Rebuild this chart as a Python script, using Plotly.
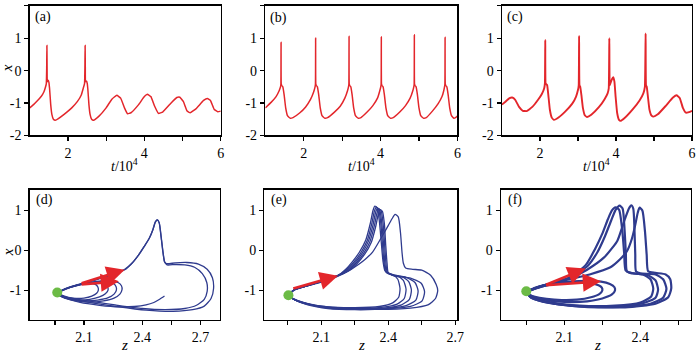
import plotly.graph_objects as go

FONT = "Liberation Serif, Times New Roman, Times, serif"
RED = "#e3262b"
BLUE = "#2f3b8e"
GREEN = "#6cbb46"

# ---------------- time series (top row) ----------------
a_t = [1.00, 1.10, 1.20, 1.30, 1.37, 1.41, 1.435, 1.445, 1.45, 1.455, 1.46, 1.48, 1.50, 1.52, 1.55, 1.58, 1.62, 1.67,
       1.75, 1.90, 2.10, 2.25, 2.35, 2.40, 2.435, 2.445, 2.45, 2.455, 2.46, 2.48, 2.50, 2.52, 2.55, 2.58, 2.62, 2.67,
       2.80, 3.00, 3.15, 3.28, 3.38, 3.48, 3.56, 3.65, 3.85, 4.00, 4.08, 4.17, 4.27, 4.37, 4.48, 4.70, 4.85, 4.93,
       5.02, 5.12, 5.20, 5.35, 5.55, 5.65, 5.73, 5.83, 5.92, 6.00]
a_x = [-1.15, -1.05, -0.93, -0.80, -0.66, -0.52, -0.40, 0.10, 0.78, 0.10, -0.34, -0.30, -0.34, -0.55, -1.05, -1.35,
       -1.50, -1.53, -1.48, -1.35, -1.15, -0.95, -0.75, -0.55, -0.40, 0.10, 0.78, 0.10, -0.34, -0.32, -0.36, -0.55,
       -1.05, -1.35, -1.50, -1.53, -1.42, -1.15, -0.88, -0.76, -0.85, -1.15, -1.33, -1.30, -1.05, -0.80, -0.73, -0.80,
       -1.10, -1.32, -1.28, -1.00, -0.83, -0.82, -0.95, -1.25, -1.30, -1.18, -0.92, -0.86, -0.92, -1.20, -1.27, -1.25]

b_t = [1.00, 1.15, 1.28, 1.36, 1.395, 1.405, 1.41, 1.415, 1.43, 1.455, 1.49, 1.53, 1.58, 1.65, 1.72, 1.90, 2.05,
       2.18, 2.26, 2.295, 2.305, 2.31, 2.315, 2.33, 2.355, 2.39, 2.43, 2.48, 2.55, 2.62, 2.80, 2.95, 3.07, 3.14,
       3.165, 3.175, 3.18, 3.185, 3.20, 3.225, 3.26, 3.30, 3.35, 3.42, 3.49, 3.65, 3.80, 3.92, 3.98, 4.005, 4.015,
       4.02, 4.025, 4.04, 4.065, 4.10, 4.14, 4.19, 4.26, 4.33, 4.50, 4.65, 4.77, 4.84, 4.865, 4.875, 4.88, 4.885,
       4.90, 4.925, 4.96, 5.00, 5.05, 5.12, 5.19, 5.35, 5.50, 5.60, 5.645, 5.665, 5.675, 5.68, 5.685, 5.70, 5.725,
       5.76, 5.80, 5.85, 5.91, 5.96, 6.00]
b_x = [-1.15, -0.98, -0.80, -0.62, -0.50, -0.42, 0.88, -0.42, -0.46, -0.50, -0.75, -1.15, -1.40, -1.47, -1.45, -1.30,
       -1.12, -0.88, -0.65, -0.50, -0.42, 1.01, -0.42, -0.46, -0.50, -0.75, -1.15, -1.40, -1.47, -1.45, -1.28, -1.10,
       -0.85, -0.62, -0.50, -0.42, 1.06, -0.42, -0.46, -0.50, -0.75, -1.15, -1.40, -1.47, -1.45, -1.28, -1.08, -0.85,
       -0.62, -0.50, -0.42, 1.05, -0.42, -0.46, -0.50, -0.75, -1.15, -1.40, -1.47, -1.45, -1.28, -1.08, -0.85, -0.62,
       -0.50, -0.42, 1.11, -0.42, -0.46, -0.50, -0.75, -1.15, -1.40, -1.47, -1.45, -1.25, -1.02, -0.80, -0.62, -0.50,
       -0.42, 1.03, -0.42, -0.46, -0.50, -0.75, -1.15, -1.40, -1.47, -1.44, -1.40]

c_t = [1.00, 1.10, 1.20, 1.27, 1.35, 1.45, 1.55, 1.65, 1.80, 1.95, 2.05, 2.11, 2.13, 2.14, 2.15, 2.17, 2.19, 2.22,
       2.26, 2.31, 2.37, 2.45, 2.65, 2.85, 2.95, 3.00, 3.02, 3.03, 3.04, 3.06, 3.09, 3.13, 3.18, 3.24, 3.35, 3.55,
       3.70, 3.78, 3.81, 3.825, 3.835, 3.85, 3.90, 3.93, 3.96, 3.99, 4.03, 4.08, 4.12, 4.22, 4.45, 4.62, 4.72, 4.76,
       4.78, 4.79, 4.81, 4.84, 4.88, 4.93, 4.99, 5.10, 5.30, 5.50, 5.60, 5.68, 5.76, 5.84, 5.92, 6.00]
c_x = [-1.05, -0.95, -0.85, -0.83, -0.90, -1.12, -1.24, -1.25, -1.12, -0.90, -0.72, -0.55, -0.40, 0.95, -0.40, -0.42,
       -0.45, -0.75, -1.20, -1.45, -1.52, -1.48, -1.28, -1.02, -0.80, -0.60, -0.45, 1.07, -0.45, -0.50, -0.75, -1.15,
       -1.38, -1.43, -1.36, -1.13, -0.88, -0.70, -0.55, 1.00, -0.45, -0.40, -0.25, -0.20, -0.35, -0.80, -1.30, -1.52,
       -1.55, -1.47, -1.18, -0.92, -0.70, -0.50, 1.15, -0.45, -0.50, -0.80, -1.20, -1.38, -1.42, -1.35, -1.10, -0.83,
       -0.76, -0.85, -1.15, -1.30, -1.28, -1.24]

# ---------------- phase portraits (bottom row): z, x ----------------
d_big1_z = [1.962, 2.00, 2.05, 2.10, 2.17, 2.24, 2.31, 2.345, 2.38, 2.41, 2.437, 2.455, 2.467, 2.477, 2.487, 2.497, 2.507,
            2.515, 2.525, 2.57, 2.63, 2.69, 2.735, 2.762, 2.768, 2.755, 2.72, 2.66, 2.56, 2.42, 2.27, 2.12, 2.02, 1.962]
d_big1_x = [-1.05, -0.97, -0.89, -0.82, -0.72, -0.61, -0.48, -0.33, -0.12, 0.10, 0.31, 0.52, 0.71, 0.77, 0.70, 0.35, -0.05,
            -0.28, -0.33, -0.31, -0.30, -0.34, -0.47, -0.68, -0.95, -1.20, -1.39, -1.48, -1.52, -1.49, -1.40, -1.29, -1.19, -1.08]
d_big2_z = [1.962, 2.00, 2.05, 2.10, 2.17, 2.24, 2.31, 2.347, 2.382, 2.412, 2.438, 2.456, 2.468, 2.478, 2.488, 2.498, 2.508,
            2.516, 2.528, 2.57, 2.62, 2.67, 2.71, 2.733, 2.735, 2.72, 2.68, 2.62, 2.52, 2.40, 2.26, 2.12, 2.02, 1.962]
d_big2_x = [-1.05, -0.96, -0.88, -0.81, -0.71, -0.60, -0.47, -0.32, -0.11, 0.11, 0.32, 0.53, 0.71, 0.76, 0.69, 0.34, -0.06,
            -0.29, -0.36, -0.35, -0.36, -0.42, -0.58, -0.80, -1.02, -1.22, -1.37, -1.45, -1.48, -1.45, -1.36, -1.26, -1.17, -1.07]
d_s1_z = [1.962, 2.01, 2.07, 2.13, 2.19, 2.24, 2.275, 2.293, 2.296, 2.285, 2.255, 2.20, 2.13, 2.06, 2.00, 1.962]
d_s1_x = [-1.06, -0.95, -0.86, -0.80, -0.76, -0.76, -0.80, -0.88, -0.98, -1.09, -1.19, -1.26, -1.29, -1.26, -1.19, -1.10]
d_s2_z = [1.962, 2.01, 2.07, 2.13, 2.18, 2.22, 2.25, 2.265, 2.267, 2.255, 2.225, 2.17, 2.11, 2.05, 2.00, 1.962]
d_s2_x = [-1.06, -0.95, -0.87, -0.81, -0.78, -0.78, -0.82, -0.90, -0.99, -1.09, -1.18, -1.24, -1.26, -1.24, -1.18, -1.10]
d_s3_z = [1.962, 2.01, 2.06, 2.11, 2.15, 2.185, 2.21, 2.222, 2.224, 2.21, 2.18, 2.13, 2.08, 2.03, 1.99, 1.962]
d_s3_x = [-1.06, -0.96, -0.88, -0.83, -0.80, -0.80, -0.84, -0.91, -0.99, -1.08, -1.16, -1.22, -1.24, -1.21, -1.16, -1.10]
d_s4_z = [1.962, 2.00, 2.04, 2.08, 2.115, 2.145, 2.163, 2.172, 2.174, 2.165, 2.14, 2.10, 2.06, 2.02, 1.99, 1.962]
d_s4_x = [-1.06, -0.97, -0.90, -0.85, -0.83, -0.83, -0.86, -0.92, -0.99, -1.07, -1.14, -1.19, -1.20, -1.18, -1.14, -1.10]
d_init_z = [2.515, 2.49, 2.46, 2.42, 2.36, 2.28, 2.18, 2.08, 2.01, 1.962]
d_init_x = [-1.14, -1.22, -1.30, -1.36, -1.40, -1.41, -1.37, -1.30, -1.20, -1.09]

e_sp0_z = [1.953, 1.98, 2.04, 2.12, 2.20, 2.27, 2.33, 2.37, 2.40, 2.418, 2.431, 2.445, 2.455, 2.462, 2.468, 2.478, 2.51,
           2.55, 2.59, 2.615, 2.622, 2.612, 2.578, 2.50, 2.34, 2.20, 2.06, 1.99, 1.953]
e_sp0_x = [-1.12, -0.99, -0.88, -0.76, -0.58, -0.34, -0.04, 0.33, 0.62, 0.80, 0.90, 0.84, 0.45, -0.05, -0.32, -0.44, -0.47,
           -0.49, -0.62, -0.85, -1.00, -1.20, -1.36, -1.44, -1.47, -1.44, -1.36, -1.24, -1.12]
e_c1_z = [1.953, 1.98, 2.05, 2.12, 2.174, 2.21, 2.24, 2.27, 2.30, 2.32, 2.332, 2.340, 2.350, 2.360, 2.369, 2.377, 2.385,
          2.395, 2.42, 2.443, 2.453, 2.447, 2.42, 2.36, 2.25, 2.13, 2.04, 1.98, 1.953]
e_c1_x = [-1.12, -0.98, -0.86, -0.74, -0.63, -0.47, -0.28, -0.05, 0.27, 0.68, 1.00, 1.11, 1.07, 0.75, 0.20, -0.28, -0.50,
          -0.56, -0.60, -0.72, -0.95, -1.17, -1.31, -1.40, -1.43, -1.41, -1.33, -1.23, -1.12]
e_c2_z = [1.953, 1.98, 2.05, 2.12, 2.174, 2.213, 2.245, 2.276, 2.306, 2.326, 2.338, 2.346, 2.356, 2.366, 2.374, 2.381,
          2.388, 2.40, 2.44, 2.468, 2.48, 2.472, 2.44, 2.37, 2.25, 2.13, 2.04, 1.98, 1.953]
e_c2_x = [-1.12, -0.98, -0.86, -0.74, -0.63, -0.48, -0.30, -0.07, 0.25, 0.66, 0.98, 1.08, 1.04, 0.72, 0.18, -0.30, -0.52,
          -0.58, -0.63, -0.75, -0.97, -1.20, -1.34, -1.42, -1.45, -1.42, -1.34, -1.23, -1.12]
e_c3_z = [1.953, 1.98, 2.05, 2.12, 2.174, 2.216, 2.25, 2.282, 2.312, 2.332, 2.344, 2.352, 2.362, 2.371, 2.379, 2.385,
          2.392, 2.41, 2.46, 2.492, 2.504, 2.495, 2.46, 2.38, 2.25, 2.13, 2.04, 1.98, 1.953]
e_c3_x = [-1.12, -0.98, -0.86, -0.74, -0.63, -0.49, -0.31, -0.08, 0.24, 0.64, 0.96, 1.06, 1.02, 0.70, 0.17, -0.31, -0.53,
          -0.60, -0.65, -0.78, -0.99, -1.22, -1.36, -1.44, -1.46, -1.43, -1.34, -1.23, -1.12]
e_c4_z = [1.953, 1.98, 2.05, 2.12, 2.174, 2.219, 2.255, 2.288, 2.318, 2.338, 2.350, 2.358, 2.368, 2.377, 2.384, 2.390,
          2.396, 2.42, 2.48, 2.52, 2.534, 2.524, 2.48, 2.39, 2.25, 2.13, 2.04, 1.98, 1.953]
e_c4_x = [-1.12, -0.98, -0.86, -0.74, -0.63, -0.50, -0.32, -0.09, 0.22, 0.62, 0.94, 1.04, 1.00, 0.68, 0.15, -0.32, -0.54,
          -0.62, -0.67, -0.80, -1.01, -1.24, -1.38, -1.45, -1.47, -1.44, -1.35, -1.23, -1.12]
e_c5_z = [1.953, 1.98, 2.05, 2.12, 2.174, 2.222, 2.26, 2.294, 2.324, 2.344, 2.356, 2.364, 2.374, 2.383, 2.389, 2.395,
          2.40, 2.43, 2.50, 2.548, 2.563, 2.552, 2.50, 2.40, 2.25, 2.13, 2.04, 1.98, 1.953]
e_c5_x = [-1.12, -0.98, -0.86, -0.74, -0.63, -0.51, -0.33, -0.10, 0.20, 0.60, 0.92, 1.02, 0.98, 0.66, 0.13, -0.33, -0.55,
          -0.64, -0.69, -0.82, -1.03, -1.26, -1.40, -1.46, -1.48, -1.45, -1.36, -1.23, -1.12]

f_p1_z = [1.95, 1.99, 2.05, 2.12, 2.185, 2.22, 2.25, 2.272, 2.288, 2.302, 2.316, 2.328, 2.336, 2.342, 2.36, 2.41, 2.44,
          2.451, 2.443, 2.40, 2.30, 2.16, 2.04, 1.97, 1.95]
f_p1_x = [-1.03, -0.94, -0.83, -0.68, -0.36, 0.02, 0.42, 0.78, 1.00, 1.08, 1.02, 0.55, -0.05, -0.50, -0.56, -0.60, -0.72,
          -0.95, -1.15, -1.30, -1.38, -1.38, -1.29, -1.17, -1.05]
f_p2_z = [1.95, 1.99, 2.05, 2.12, 2.19, 2.23, 2.26, 2.285, 2.303, 2.318, 2.33, 2.338, 2.343, 2.347, 2.37, 2.43, 2.46,
          2.47, 2.46, 2.41, 2.30, 2.16, 2.04, 1.97, 1.95]
f_p2_x = [-1.03, -0.93, -0.82, -0.68, -0.40, -0.05, 0.35, 0.75, 1.02, 1.12, 1.05, 0.50, -0.10, -0.52, -0.57, -0.62, -0.75,
          -0.98, -1.18, -1.32, -1.40, -1.39, -1.30, -1.17, -1.05]
f_p3_z = [1.95, 1.99, 2.05, 2.12, 2.19, 2.256, 2.29, 2.31, 2.34, 2.355, 2.364, 2.372, 2.377, 2.38, 2.383, 2.40, 2.46,
          2.49, 2.503, 2.49, 2.44, 2.32, 2.17, 2.04, 1.97, 1.95]
f_p3_x = [-1.03, -0.93, -0.82, -0.70, -0.48, -0.18, 0.07, 0.25, 0.80, 1.05, 1.13, 1.05, 0.50, -0.10, -0.52, -0.57, -0.60,
          -0.72, -0.96, -1.18, -1.33, -1.41, -1.40, -1.31, -1.18, -1.05]
f_p4_z = [1.95, 1.99, 2.05, 2.12, 2.20, 2.282, 2.32, 2.347, 2.367, 2.38, 2.39, 2.397, 2.408, 2.418, 2.425, 2.431, 2.46,
          2.50, 2.518, 2.522, 2.51, 2.46, 2.34, 2.18, 2.05, 1.97, 1.95]
f_p4_x = [-1.03, -0.93, -0.82, -0.72, -0.60, -0.42, -0.22, -0.02, 0.30, 0.64, 0.95, 1.07, 1.00, 0.50, -0.10, -0.52, -0.56,
          -0.60, -0.72, -0.95, -1.17, -1.33, -1.42, -1.41, -1.32, -1.18, -1.05]
f_s1_z = [1.95, 1.99, 2.05, 2.12, 2.19, 2.245, 2.28, 2.298, 2.30, 2.288, 2.25, 2.19, 2.12, 2.05, 1.99, 1.95]
f_s1_x = [-1.03, -0.92, -0.83, -0.78, -0.76, -0.78, -0.84, -0.92, -1.00, -1.10, -1.20, -1.27, -1.29, -1.26, -1.18, -1.08]
f_s2_z = [1.95, 1.99, 2.04, 2.10, 2.16, 2.205, 2.235, 2.248, 2.25, 2.238, 2.205, 2.15, 2.09, 2.03, 1.98, 1.95]
f_s2_x = [-1.03, -0.94, -0.86, -0.81, -0.80, -0.82, -0.87, -0.93, -1.00, -1.09, -1.17, -1.23, -1.24, -1.21, -1.15, -1.08]

# green starting points (z, x)
dot_d = (1.962, -1.05)
dot_e = (1.953, -1.12)
dot_f = (1.95, -1.02)

# red arrows: (tail z, tail x, tip z, tip x)
arrows_d = [(2.08, -0.83, 2.31, -0.48), (2.08, -0.85, 2.28, -0.77)]
arrows_e = [(1.968, -0.96, 2.175, -0.63)]
arrows_f = [(2.022, -0.87, 2.185, -0.45), (2.022, -0.87, 2.245, -0.77)]

panel_labels = ["(a)", "(b)", "(c)", "(d)", "(e)", "(f)"]

fig = go.Figure()


def ax_name(i, kind):
    return kind if i == 1 else f"{kind}{i}"


def add_line(xs, ys, i, color, width, smooth=0.6):
    fig.add_trace(go.Scatter(x=xs, y=ys, xaxis=ax_name(i, "x"), yaxis=ax_name(i, "y"), mode="lines",
                             line=dict(color=color, width=width, shape="spline", smoothing=smooth),
                             hoverinfo="skip", showlegend=False))


add_line(a_t, a_x, 1, RED, 1.5, 0.3)
add_line(b_t, b_x, 2, RED, 1.5, 0.3)
add_line(c_t, c_x, 3, RED, 1.9, 0.3)

for zs, xs in [(d_big1_z, d_big1_x), (d_big2_z, d_big2_x), (d_s1_z, d_s1_x), (d_s2_z, d_s2_x),
               (d_s3_z, d_s3_x), (d_s4_z, d_s4_x), (d_init_z, d_init_x)]:
    add_line(zs, xs, 4, BLUE, 1.3)
for zs, xs in [(e_sp0_z, e_sp0_x), (e_c1_z, e_c1_x), (e_c2_z, e_c2_x), (e_c3_z, e_c3_x),
               (e_c4_z, e_c4_x), (e_c5_z, e_c5_x)]:
    add_line(zs, xs, 5, BLUE, 1.3)
for zs, xs in [(f_p1_z, f_p1_x), (f_p2_z, f_p2_x), (f_p3_z, f_p3_x), (f_p4_z, f_p4_x),
               (f_s1_z, f_s1_x), (f_s2_z, f_s2_x)]:
    add_line(zs, xs, 6, BLUE, 2.2)

W, H = 700, 358
top_y = [1 - 138.5 / H, 1 - 6 / H]
bot_y = [1 - 327 / H, 1 - 194 / H]
doms = {
    1: ([30 / W, 223 / W], top_y),
    2: ([268 / W, 462 / W], top_y),
    3: ([507 / W, 699 / W], top_y),
    4: ([30 / W, 222 / W], bot_y),
    5: ([267 / W, 462 / W], bot_y),
    6: ([506 / W, 698 / W], bot_y),
}
xranges = {1: [1, 6], 2: [1, 6], 3: [1, 6], 4: [1.82, 2.80], 5: [1.845, 2.71], 6: [1.85, 2.60]}

base = dict(showline=True, linecolor="black", linewidth=1.4, mirror=True, ticks="outside", ticklen=4,
            tickwidth=1.2, tickcolor="black", showgrid=False, zeroline=False,
            tickfont=dict(family=FONT, size=14, color="black"), fixedrange=True)

layout_axes = {}
for i in range(1, 7):
    xd, yd = doms[i]
    xa = dict(base, domain=xd, range=xranges[i], anchor=ax_name(i, "y"), ticklabelstandoff=0)
    if i <= 3:
        xa.update(tickvals=[2, 4, 6], ticktext=["2", "4", "6"],
                  minor=dict(tickvals=[3, 5], ticks="outside", ticklen=4, tickwidth=1.2, tickcolor="black"))
        ya = dict(base, domain=yd, range=[-2, 2], anchor=ax_name(i, "x"),
                  tickvals=[-2, -1, 0, 1, 2], ticktext=["-2", "-1", "0", "1", "2"])
    else:
        xa.update(tickvals=[2.1, 2.4, 2.7], ticktext=["2.1", "2.4", "2.7"],
                  minor=dict(tickvals=[1.95, 2.25, 2.55], ticks="outside", ticklen=4, tickwidth=1.2,
                             tickcolor="black"))
        ya = dict(base, domain=yd, range=[-1.73, 1.52], anchor=ax_name(i, "x"),
                  tickvals=[-1, 0, 1], ticktext=["-1", "0", "1"])
    layout_axes["xaxis" if i == 1 else f"xaxis{i}"] = xa
    layout_axes["yaxis" if i == 1 else f"yaxis{i}"] = ya

# green starting dots
for i, (zz, xx) in zip([4, 5, 6], [dot_d, dot_e, dot_f]):
    fig.add_trace(go.Scatter(x=[zz], y=[xx], xaxis=ax_name(i, "x"), yaxis=ax_name(i, "y"), mode="markers",
                             marker=dict(color=GREEN, size=10), hoverinfo="skip", showlegend=False))

ann = []
# panel labels
label_pos = [(43, 17), (281, 18), (520, 17), (45, 205), (282, 205), (520, 205)]
for lab, (px, py) in zip(panel_labels, label_pos):
    ann.append(dict(text=lab, x=px / W, y=1 - py / H, xref="paper", yref="paper", showarrow=False,
                    xanchor="center", yanchor="middle", font=dict(family=FONT, size=14, color="black")))
# axis titles
for cx in [126, 365, 603]:
    ann.append(dict(text="<i>t</i>/10<sup>4</sup>", x=cx / W, y=1 - 158 / H, xref="paper", yref="paper",
                    showarrow=False, xanchor="center", yanchor="top",
                    font=dict(family=FONT, size=14, color="black")))
for cx in [126, 365, 604]:
    ann.append(dict(text="<i>z</i>", x=cx / W, y=1 - 343 / H, xref="paper", yref="paper",
                    showarrow=False, xanchor="center", yanchor="top",
                    font=dict(family=FONT, size=15, color="black")))
for cy in [70, 258]:
    ann.append(dict(text="<i>x</i>", x=8 / W, y=1 - cy / H, xref="paper", yref="paper", textangle=-90,
                    showarrow=False, xanchor="center", yanchor="middle",
                    font=dict(family=FONT, size=15, color="black")))
# red arrows
for i, arrs in zip([4, 5, 6], [arrows_d, arrows_e, arrows_f]):
    for (tz, tx, hz, hx) in arrs:
        ann.append(dict(x=hz, y=hx, ax=tz, ay=tx, xref=ax_name(i, "x"), yref=ax_name(i, "y"),
                        axref=ax_name(i, "x"), ayref=ax_name(i, "y"), text="", showarrow=True,
                        arrowhead=2, arrowsize=1.4, arrowwidth=2.6, arrowcolor=RED, standoff=0))

fig.update_layout(width=W, height=H, margin=dict(l=0, r=0, t=0, b=0), paper_bgcolor="white",
                  plot_bgcolor="white", annotations=ann, font=dict(family=FONT, color="black"),
                  **layout_axes)

fig.write_html("out.html", config={"displayModeBar": False, "staticPlot": True},
               post_script="document.body.style.margin='0';document.body.style.padding='0';"
                           "document.documentElement.style.overflow='hidden';")
